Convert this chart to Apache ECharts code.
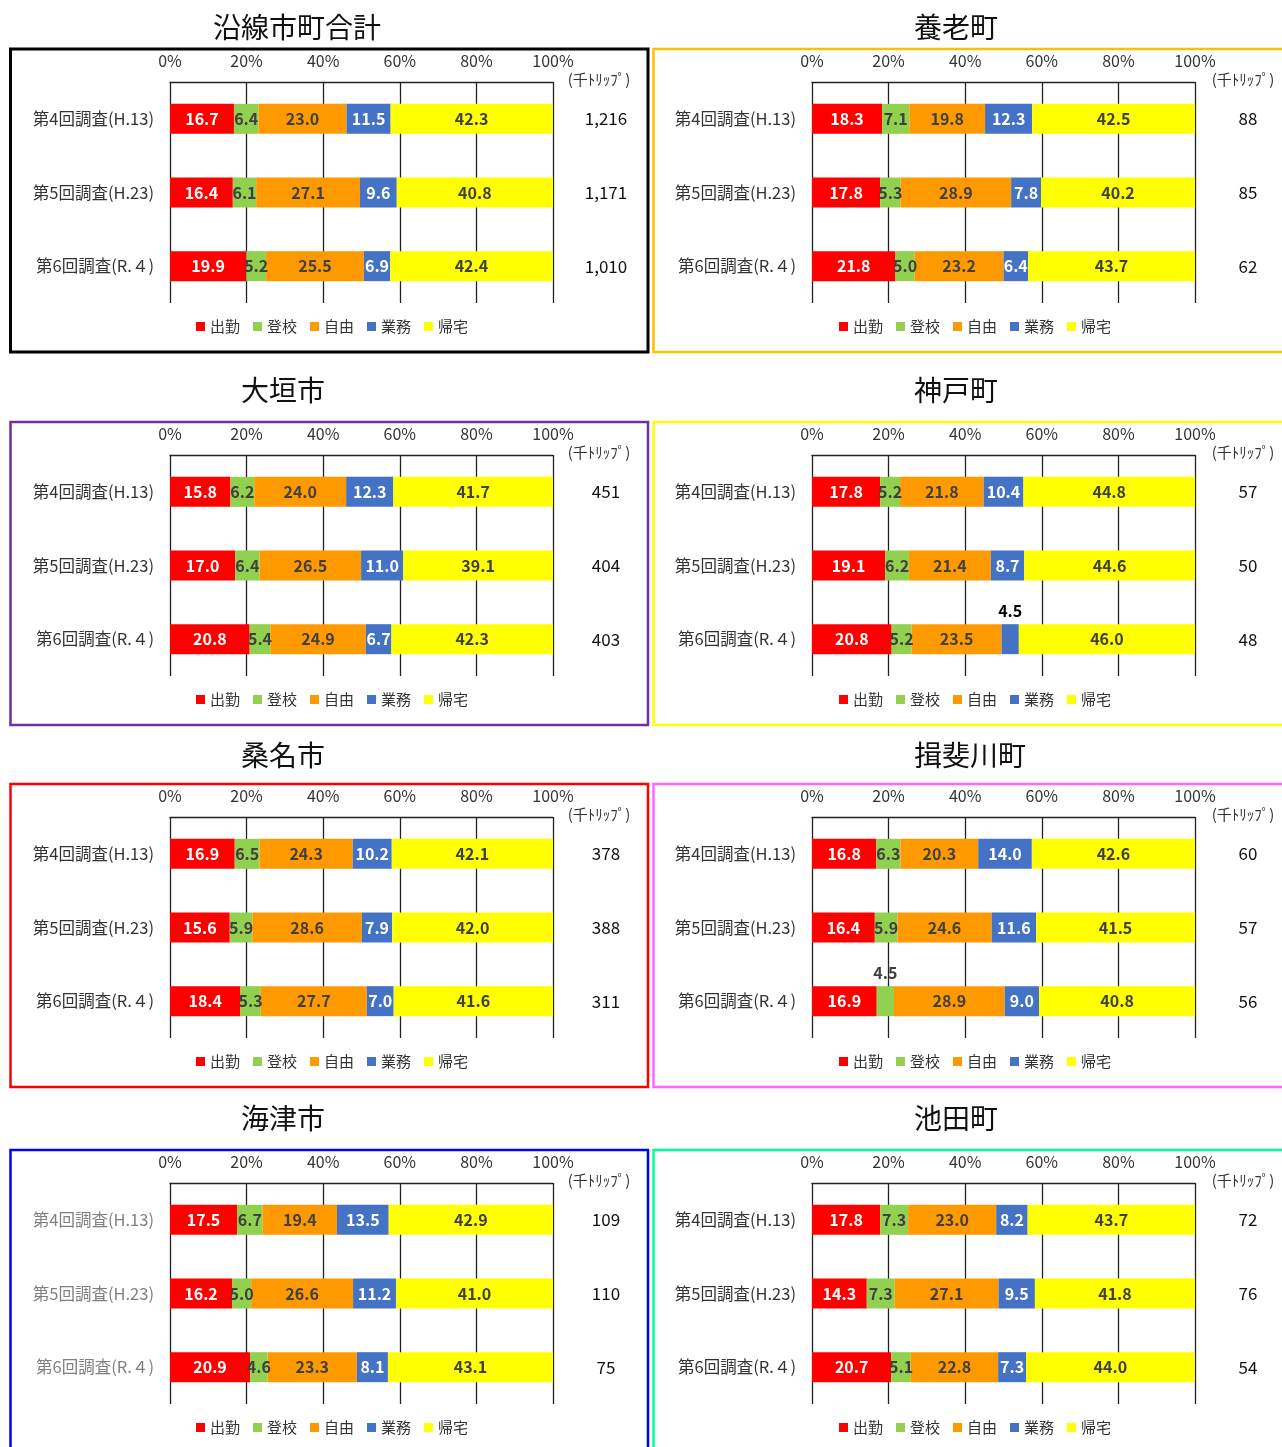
<!DOCTYPE html>
<html><head><meta charset="utf-8">
<script src="https://cdn.jsdelivr.net/npm/echarts@6/dist/echarts.min.js"></script>
<style>html,body{margin:0;padding:0;background:#fff;overflow:hidden}#c{width:1282px;height:1447px}</style>
</head><body><div id="c"></div><script>
// ---- data ----
const categories = ['第4回調査(H.13)', '第5回調査(H.23)', '第6回調査(R.４)'];
const purposes = ['出勤', '登校', '自由', '業務', '帰宅'];
const tickLabels = ['0%', '20%', '40%', '60%', '80%', '100%'];
const panelNames = ['沿線市町合計', '養老町', '大垣市', '神戸町', '桑名市', '揖斐川町', '海津市', '池田町'];
const unitLabel = '(千ﾄﾘｯﾌﾟ)';

// shares (%) per survey: [出勤, 登校, 自由, 業務, 帰宅]
const ensen   = [[16.7, 6.4, 23.0, 11.5, 42.3], [16.4, 6.1, 27.1, 9.6, 40.8], [19.9, 5.2, 25.5, 6.9, 42.4]];
const yoro    = [[18.3, 7.1, 19.8, 12.3, 42.5], [17.8, 5.3, 28.9, 7.8, 40.2], [21.8, 5.0, 23.2, 6.4, 43.7]];
const ogaki   = [[15.8, 6.2, 24.0, 12.3, 41.7], [17.0, 6.4, 26.5, 11.0, 39.1], [20.8, 5.4, 24.9, 6.7, 42.3]];
const godo    = [[17.8, 5.2, 21.8, 10.4, 44.8], [19.1, 6.2, 21.4, 8.7, 44.6], [20.8, 5.2, 23.5, 4.5, 46.0]];
const kuwana  = [[16.9, 6.5, 24.3, 10.2, 42.1], [15.6, 5.9, 28.6, 7.9, 42.0], [18.4, 5.3, 27.7, 7.0, 41.6]];
const ibigawa = [[16.8, 6.3, 20.3, 14.0, 42.6], [16.4, 5.9, 24.6, 11.6, 41.5], [16.9, 4.5, 28.9, 9.0, 40.8]];
const kaizu   = [[17.5, 6.7, 19.4, 13.5, 42.9], [16.2, 5.0, 26.6, 11.2, 41.0], [20.9, 4.6, 23.3, 8.1, 43.1]];
const ikeda   = [[17.8, 7.3, 23.0, 8.2, 43.7], [14.3, 7.3, 27.1, 9.5, 41.8], [20.7, 5.1, 22.8, 7.3, 44.0]];

// totals (thousand trips)
const ensenTotal   = ['1,216', '1,171', '1,010'];
const yoroTotal    = ['88', '85', '62'];
const ogakiTotal   = ['451', '404', '403'];
const godoTotal    = ['57', '50', '48'];
const kuwanaTotal  = ['378', '388', '311'];
const ibigawaTotal = ['60', '57', '56'];
const kaizuTotal   = ['109', '110', '75'];
const ikedaTotal   = ['72', '76', '54'];

const panelValues = [ensen, yoro, ogaki, godo, kuwana, ibigawa, kaizu, ikeda];
const panelTotals = [ensenTotal, yoroTotal, ogakiTotal, godoTotal, kuwanaTotal, ibigawaTotal, kaizuTotal, ikedaTotal];

// ---- styling ----
const FONT = '"Noto Sans CJK JP", "Noto Sans", sans-serif';
const barColors = ['#FF0000', '#92D050', '#FF9900', '#4472C4', '#FFFF00'];
const labelColors = ['#FFFFFF', '#404040', '#404040', '#FFFFFF', '#404040'];
const boxColors = ['#000000', '#FFC000', '#7030A0', '#FFFF00', '#FF0000', '#FF66FF', '#0000FF', '#00FF99'];
const boxWidths = [3, 2.5, 2.5, 2.5, 2.5, 2.5, 2.5, 2.5];
const catColors = ['#333', '#333', '#333', '#333', '#333', '#333', '#808080', '#333'];
const rowTops = [48, 421, 783, 1149];
const titleYs = [27, 390, 755, 1118];
const titleXs = [213, 914, 241, 914, 241, 914, 241, 914];
// labels drawn above the bar: [panel, survey, purpose, color]
const aboveLabels = [[3, 2, 3, '#000000'], [5, 2, 1, '#404040']];

const grids = [], xAxes = [], yAxes = [], series = [], legends = [], graphics = [];

panelNames.forEach((name, p) => {
  const col = p % 2, row = Math.floor(p / 2);
  const top = rowTops[row];
  const gLeft = col ? 812 : 170;
  grids.push({left: gLeft, top: top + 34, width: 383, height: 221, containLabel: false});
  xAxes.push({
    type: 'value', gridIndex: p, min: 0, max: 100, interval: 20, position: 'top',
    axisLine: {show: true, lineStyle: {color: '#222', width: 1.3}},
    axisTick: {show: false},
    splitLine: {show: true, lineStyle: {color: '#222', width: 1.3}},
    axisLabel: {margin: 13, fontSize: 16, color: '#333', fontFamily: FONT,
      formatter: v => tickLabels[Math.round(v / 20)]}
  });
  yAxes.push({
    type: 'category', gridIndex: p, data: categories, inverse: true,
    axisLine: {show: false}, axisTick: {show: false}, splitLine: {show: false},
    axisLabel: {margin: 16, fontSize: 16.5, color: catColors[p], fontFamily: FONT}
  });
  yAxes.push({
    type: 'category', gridIndex: p, data: panelTotals[p], inverse: true, position: 'right',
    axisLine: {show: false}, axisTick: {show: false}, splitLine: {show: false},
    axisLabel: {margin: 53, align: 'center', fontSize: 17, color: '#111', fontFamily: FONT, padding: [6, 0, 0, 0]}
  });
  purposes.forEach((pname, k) => {
    series.push({
      type: 'bar', name: pname, stack: 'panel' + p, xAxisIndex: p, yAxisIndex: 2 * p,
      barWidth: 30,
      itemStyle: {color: barColors[k]},
      label: {show: true, position: 'inside', color: labelColors[k], fontWeight: 'bold',
        fontSize: 16, fontFamily: FONT, formatter: o => Number(o.value).toFixed(1)},
      data: panelValues[p].map((r, s) => {
        const a = aboveLabels.find(t => t[0] === p && t[1] === s && t[2] === k);
        if (a) return {value: r[k], label: {position: 'top', distance: 5, color: a[3]}};
        return r[k];
      })
    });
  });
  legends.push({
    data: purposes, left: col ? 839 : 196, top: top + 271, padding: 0,
    icon: 'rect', itemWidth: 9, itemHeight: 9, itemGap: 13,
    selectedMode: false,
    textStyle: {fontSize: 15, color: '#333', fontFamily: FONT}
  });
  graphics.push({
    type: 'rect', silent: true,
    shape: {x: col ? 653.5 : 10.5, y: top + 1, width: col ? 640 : 637.5, height: 303},
    style: {fill: null, stroke: boxColors[p], lineWidth: boxWidths[p]}
  });
  graphics.push({
    type: 'text', silent: true, x: titleXs[p], y: titleYs[row],
    style: {text: name, font: '28px ' + FONT, fill: '#111', textAlign: 'left', textVerticalAlign: 'middle'}
  });
  graphics.push({
    type: 'text', silent: true, x: col ? 1243 : 599, y: top + 31,
    style: {text: unitLabel, font: '15px ' + FONT, fill: '#333', textAlign: 'center', textVerticalAlign: 'middle'}
  });
});

const chart = echarts.init(document.getElementById('c'));
chart.setOption({
  animation: false,
  textStyle: {fontFamily: FONT},
  grid: grids, xAxis: xAxes, yAxis: yAxes, series: series, legend: legends, graphic: graphics
});
</script></body></html>
